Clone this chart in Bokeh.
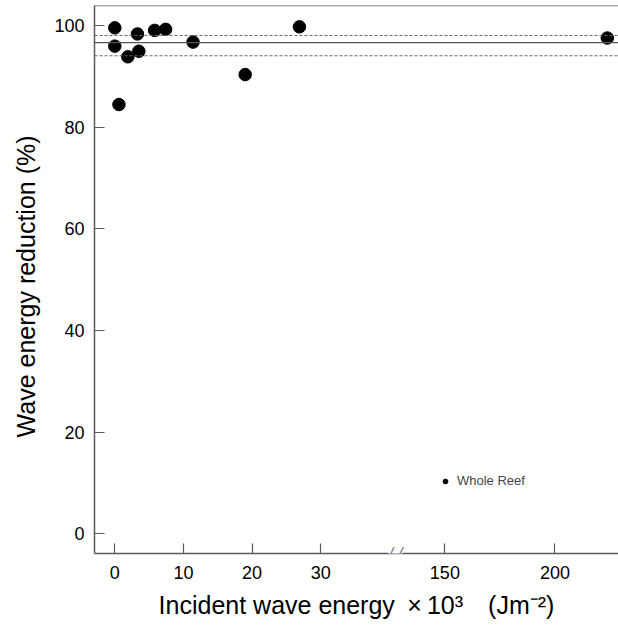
from bokeh.plotting import figure
from bokeh.models import (FixedTicker, CustomJSTickFormatter, Span, Label, Legend,
                          LegendItem, Range1d)
from bokeh.embed import file_html
from bokeh.resources import INLINE

# ---------------- data ----------------
energy = [0.0, 0.0, 0.6, 1.9, 3.3, 3.5, 5.8, 7.4, 11.4, 19.0, 26.9, 223.8]
reduction = [99.6, 96.0, 84.5, 93.9, 98.4, 95.0, 99.1, 99.3, 96.8, 90.4, 99.8, 97.6]
mean_reduction = 96.7
ci_upper = 98.1
ci_lower = 94.1

x_ticks = [0, 10, 20, 30, 150, 200]
x_tick_labels = ["0", "10", "20", "30", "150", "200"]
y_ticks = [0, 20, 40, 60, 80, 100]

series_label = "Whole Reef"

# broken x axis: [.., 40] shown at full scale, then [~125, ..] compressed
LEFT_MAX = 40.0
RIGHT_REF = 150.0
RIGHT_REF_U = 48.1
RIGHT_SCALE = 0.3207


def to_axis(x):
    if x <= LEFT_MAX:
        return x
    return RIGHT_REF_U + (x - RIGHT_REF) * RIGHT_SCALE


u_energy = [to_axis(v) for v in energy]
u_ticks = [to_axis(t) for t in x_ticks]

X_START, X_END = -2.96, 73.4
Y_START, Y_END = -3.9, 104.0

FONT = "Liberation Sans"
AXIS_COLOR = "#5a5a5a"

p = figure(width=618, height=637, output_backend="svg", toolbar_location=None,
           x_range=Range1d(X_START, X_END), y_range=Range1d(Y_START, Y_END),
           min_border_left=94, min_border_right=0, min_border_top=5,
           min_border_bottom=84)
p.outline_line_color = None
p.xgrid.visible = False
p.ygrid.visible = False
p.background_fill_color = "white"
p.border_fill_color = "white"

r = p.scatter(u_energy, reduction, size=12.5, color="black")

# reference lines
p.add_layout(Span(location=mean_reduction, dimension="width",
                  line_color="#555555", line_width=1.4))
p.add_layout(Span(location=ci_upper, dimension="width",
                  line_color="#666666", line_width=1, line_dash="3 2"))
p.add_layout(Span(location=ci_lower, dimension="width",
                  line_color="#666666", line_width=1, line_dash="3 2"))
p.add_layout(Span(location=Y_END, dimension="width",
                  line_color=AXIS_COLOR, line_width=1.5))

# axes
for ax in (p.xaxis[0], p.yaxis[0]):
    ax.axis_line_color = AXIS_COLOR
    ax.axis_line_width = 1.5
    ax.major_tick_line_color = AXIS_COLOR
    ax.major_tick_line_width = 1.2
    ax.major_tick_in = 10
    ax.major_tick_out = 0
    ax.minor_tick_line_color = None
    ax.major_label_text_font = FONT
    ax.major_label_text_font_size = "18px"
    ax.major_label_text_color = "black"
    ax.axis_label_text_font = FONT
    ax.axis_label_text_font_size = "25px"
    ax.axis_label_text_font_style = "normal"
    ax.axis_label_text_color = "black"

p.xaxis.ticker = FixedTicker(ticks=u_ticks)
p.xaxis.formatter = CustomJSTickFormatter(
    args=dict(pos=u_ticks, labels=x_tick_labels),
    code="""
    let best = 0, d = Infinity;
    for (let i = 0; i < pos.length; i++) {
        const dd = Math.abs(pos[i] - tick);
        if (dd < d) { d = dd; best = i; }
    }
    return labels[best];
    """)
p.xaxis.major_label_standoff = 12
p.xaxis.axis_label = "Incident wave energy\u2002\u00d7\u200910\u00b3\u2002\u2002(Jm\u207b\u00b2)"
p.xaxis.axis_label_standoff = 9

p.yaxis.ticker = FixedTicker(ticks=y_ticks)
p.yaxis.major_label_standoff = 10
p.yaxis.axis_label = "Wave energy reduction (%)\u00a0\u00a0"
p.yaxis.axis_label_standoff = 11

# axis break marker
p.add_layout(Label(x=LEFT_MAX + 0.9, y=Y_START, text="/ /",
                   text_font=FONT, text_font_size="17px",
                   text_font_style="italic", text_color="#777777",
                   text_align="center", text_baseline="middle",
                   background_fill_color="white", level="overlay"))

legend = Legend(items=[LegendItem(label=series_label, renderers=[r])],
                location=(345, 65), border_line_color=None,
                background_fill_alpha=0, padding=0, margin=0, spacing=0,
                glyph_width=12, glyph_height=12, label_height=12,
                label_standoff=6, label_text_font=FONT,
                label_text_font_size="13px")
p.add_layout(legend)

open("out.html", "w").write(file_html(p, INLINE))
